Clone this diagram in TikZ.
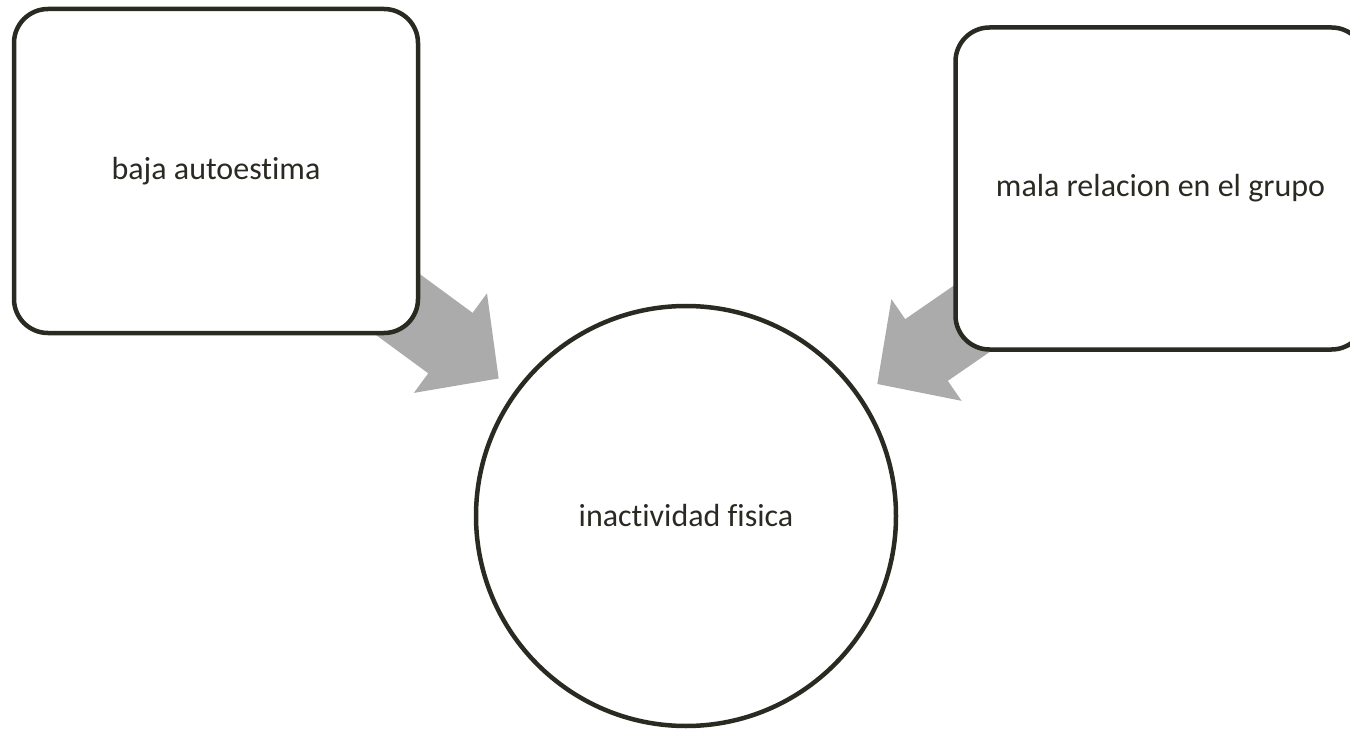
\documentclass[tikz,border=0pt]{standalone}
\usepackage{fontspec}
\setmainfont[Ligatures=NoCommon]{Carlito}
\usepackage{tikz}
\usetikzlibrary{arrows.meta,backgrounds}
\definecolor{mapink}{HTML}{2B2A22}
\definecolor{mapgray}{HTML}{ABABAB}
\tikzstyle{blockarrow} = [-{Triangle[length=60pt,width=120pt]}, line width=75pt, mapgray, shorten >=20pt]

\begin{document}
\begin{tikzpicture}[x=1pt, y=-1pt,
  causebox/.style={rectangle, draw=mapink, line width=4.5pt, fill=white, rounded corners=34pt, text=mapink, font=\fontsize{32}{38}\selectfont},
  effectcircle/.style={circle, draw=mapink, line width=4.5pt, fill=white, minimum size=420pt, inner sep=0pt, text=mapink, font=\fontsize{32}{38}\selectfont}]

\useasboundingbox (0,0) rectangle (1350,730);

\node[causebox, minimum width=404pt, minimum height=324pt] (baja) at (216,171) {baja autoestima};
\node[causebox, minimum width=410pt, minimum height=322pt] (mala) at (1160.5,188.5) {mala relacion en el grupo};
\node[effectcircle] (inact) at (686,516) {inactividad fisica};

\begin{scope}[on background layer]
\draw[blockarrow] (baja.center) -- (inact);
\draw[blockarrow] (mala.center) -- (inact);
\end{scope}
\end{tikzpicture}
\end{document}
